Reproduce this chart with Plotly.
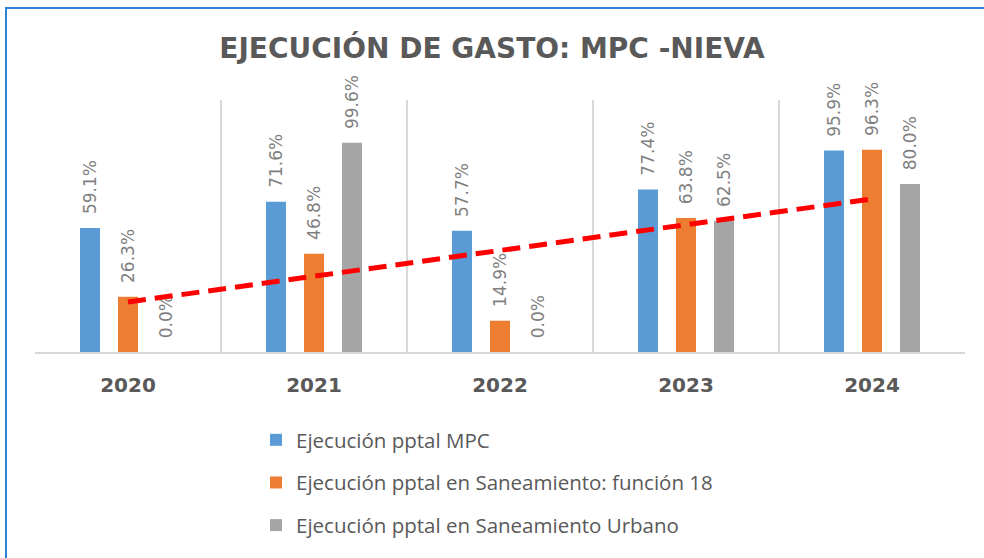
import plotly.graph_objects as go

years = ["2020", "2021", "2022", "2023", "2024"]
ejec_mpc = [59.1, 71.6, 57.7, 77.4, 95.9]
ejec_san_f18 = [26.3, 46.8, 14.9, 63.8, 96.3]
ejec_san_urb = [0.0, 99.6, 0.0, 62.5, 80.0]
series_names = [
    "Ejecución pptal MPC",
    "Ejecución pptal en Saneamiento: función 18",
    "Ejecución pptal en Saneamiento Urbano",
]
series_colors = ["#5B9BD5", "#ED7D31", "#A5A5A5"]
trend_years = ["2020", "2024"]
trend_values = [23.8, 72.9]

fig = go.Figure()
for i, (name, vals, col) in enumerate(zip(series_names, [ejec_mpc, ejec_san_f18, ejec_san_urb], series_colors)):
    fig.add_trace(go.Bar(
        x=years, y=vals, name=name, marker=dict(color=col, line=dict(width=0)),
        texttemplate="\u00a0\u00a0%{y:.1f}%", textposition="outside", textangle=-90,
        constraintext="none", cliponaxis=False,
        textfont=dict(family="DejaVu Sans", size=17, color="#7F7F7F"),
        legendgroup="g%d" % i,
    ))

fig.add_trace(go.Scatter(
    x=trend_years, y=trend_values, mode="lines", showlegend=False,
    line=dict(color="#FF0000", width=5, dash="18px,9px"), hoverinfo="skip",
))

fig.update_layout(
    width=984, height=558,
    margin=dict(l=35, r=19, t=100, b=206),
    paper_bgcolor="white", plot_bgcolor="white",
    barmode="group", bargap=0.387, bargroupgap=0.474,
    title=dict(text="EJECUCIÓN DE GASTO: MPC -NIEVA", x=0.5, xanchor="center",
               y=1 - 48 / 558, yanchor="middle",
               font=dict(family="DejaVu Sans", size=28, color="#595959", weight="bold")),
    xaxis=dict(type="category", tickson="boundaries", showgrid=True, gridcolor="#D9D9D9", gridwidth=2,
               showline=True, linecolor="#D9D9D9", linewidth=2, ticks="",
               ticklabelstandoff=14,
               tickfont=dict(family="DejaVu Sans", size=20, color="#595959", weight="bold")),
    yaxis=dict(range=[0, 120], visible=False, showgrid=False),
    legend=dict(orientation="v", x=(256 - 35) / 930, xanchor="left", y=(352 - 420) / 252, yanchor="top",
                font=dict(family="Open Sans", size=20.5, color="#595959"), tracegroupgap=13,
                bgcolor="rgba(0,0,0,0)"),
    showlegend=True,
    shapes=[dict(type="rect", xref="paper", yref="paper",
                 x0=(6 - 35) / 930, x1=1.2, y0=-2, y1=(352 - 8) / 252,
                 line=dict(color="#2B83D6", width=2), fillcolor="rgba(0,0,0,0)", layer="above")],
)

fig.write_html("out.html", config={"displayModeBar": False},
               post_script="document.body.style.margin='0';")
